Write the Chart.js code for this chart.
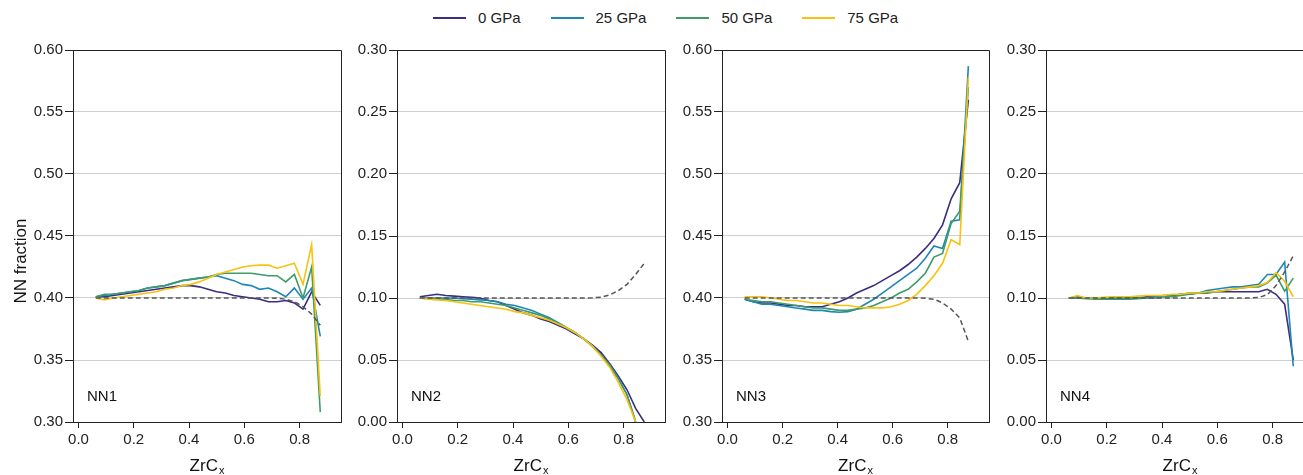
<!DOCTYPE html>
<html lang="en">
  <head>
    <meta charset="UTF-8" />
    <title>NN fraction vs ZrCx</title>
    <script src="https://cdn.jsdelivr.net/npm/chart.js"></script>
    <style>
      body {
        margin: 0;
        width: 1303px;
        height: 475px;
        overflow: hidden;
        background: #fff;
        font-family: "Liberation Sans", Arial, sans-serif;
      }
      canvas {
        position: absolute;
        top: 0;
      }
      #legend {
        position: absolute;
        left: 433px;
        top: 9px;
        display: flex;
        align-items: center;
        font-size: 15px;
        line-height: 17px;
        color: #222;
      }
      .item {
        display: flex;
        align-items: center;
        margin-right: 30px;
      }
      .swatch {
        width: 33px;
        height: 2px;
        margin-right: 12px;
      }
    </style>
  </head>
  <body>
    <div id="legend"></div>
    <canvas id="nn1" width="345" height="475" style="left: 0px"></canvas>
    <canvas id="nn2" width="325" height="475" style="left: 345px"></canvas>
    <canvas id="nn3" width="324" height="475" style="left: 670px"></canvas>
    <canvas id="nn4" width="330" height="475" style="left: 994px"></canvas>
    <script>
      // ZrCx composition of every point
      const zrcX = [
        0.0625, 0.09375, 0.125, 0.15625, 0.1875, 0.21875, 0.25, 0.28125, 0.3125,
        0.34375, 0.375, 0.40625, 0.4375, 0.46875, 0.5, 0.53125, 0.5625, 0.59375,
        0.625, 0.65625, 0.6875, 0.71875, 0.75, 0.78125, 0.8125, 0.84375, 0.875,
      ];
      const pressureLabels = ["0 GPa", "25 GPa", "50 GPa", "75 GPa"];
      const pressureColors = ["#3b2d7f", "#1f86b6", "#3d9c68", "#f8c20f"];
      const panelNames = ["NN1", "NN2", "NN3", "NN4"];
      const xTicks = [0.0, 0.2, 0.4, 0.6, 0.8];
      const yTicksHigh = [0.3, 0.35, 0.4, 0.45, 0.5, 0.55, 0.6];
      const yTicksLow = [0.0, 0.05, 0.1, 0.15, 0.2, 0.25, 0.3];

      // NN1
      const nn1_0 = [
        0.401, 0.401, 0.402, 0.403, 0.404, 0.405, 0.406, 0.407, 0.408, 0.409,
        0.410, 0.410, 0.409, 0.407, 0.405, 0.404, 0.402, 0.401, 0.400, 0.399,
        0.397, 0.397, 0.398, 0.396, 0.391, 0.405, 0.394,
      ];
      const nn1_25 = [
        0.401, 0.402, 0.403, 0.404, 0.405, 0.406, 0.408, 0.409, 0.410, 0.412,
        0.414, 0.415, 0.416, 0.417, 0.418, 0.416, 0.414, 0.411, 0.410, 0.407,
        0.408, 0.405, 0.401, 0.408, 0.399, 0.408, 0.369,
      ];
      const nn1_50 = [
        0.401, 0.403, 0.403, 0.404, 0.405, 0.406, 0.408, 0.409, 0.410, 0.412,
        0.414, 0.415, 0.416, 0.417, 0.419, 0.420, 0.420, 0.420, 0.420, 0.419,
        0.418, 0.418, 0.413, 0.419, 0.400, 0.425, 0.308,
      ];
      const nn1_75 = [
        0.400, 0.3985, 0.400, 0.401, 0.402, 0.403, 0.404, 0.405, 0.407, 0.408,
        0.410, 0.411, 0.413, 0.416, 0.419, 0.421, 0.423, 0.425, 0.426, 0.4265,
        0.4265, 0.424, 0.426, 0.428, 0.411, 0.443, 0.321,
      ];
      const nn1_random = [
        0.400, 0.400, 0.400, 0.400, 0.400, 0.400, 0.400, 0.400, 0.400, 0.400,
        0.400, 0.400, 0.400, 0.400, 0.400, 0.400, 0.400, 0.400, 0.400, 0.400,
        0.400, 0.3998, 0.399, 0.397, 0.393, 0.387, 0.378,
      ];

      // NN2
      const nn2_0 = [
        0.101, 0.102, 0.103, 0.102, 0.1015, 0.101, 0.1005, 0.100, 0.098, 0.097,
        0.094, 0.091, 0.088, 0.086, 0.083, 0.081, 0.078, 0.075, 0.071, 0.067,
        0.062, 0.056, 0.047, 0.037, 0.026, 0.011, 0.000,
      ];
      const nn2_25 = [
        0.100, 0.100, 0.100, 0.100, 0.100, 0.0995, 0.099, 0.0985, 0.098, 0.097,
        0.095, 0.094, 0.092, 0.090, 0.087, 0.084, 0.080, 0.076, 0.072, 0.067,
        0.061, 0.054, 0.045, 0.035, 0.022, 0.000, null,
      ];
      const nn2_50 = [
        0.100, 0.0995, 0.099, 0.099, 0.098, 0.098, 0.097, 0.097, 0.096, 0.095,
        0.094, 0.092, 0.090, 0.088, 0.086, 0.083, 0.080, 0.076, 0.072, 0.067,
        0.061, 0.054, 0.046, 0.035, 0.022, 0.000, null,
      ];
      const nn2_75 = [
        0.100, 0.099, 0.0985, 0.098, 0.097, 0.096, 0.095, 0.094, 0.093, 0.092,
        0.091, 0.089, 0.088, 0.086, 0.084, 0.082, 0.079, 0.076, 0.072, 0.067,
        0.061, 0.053, 0.044, 0.032, 0.018, 0.000, null,
      ];
      const nn2_random = [
        0.100, 0.100, 0.100, 0.100, 0.100, 0.100, 0.100, 0.100, 0.100, 0.100,
        0.100, 0.100, 0.100, 0.100, 0.100, 0.100, 0.100, 0.100, 0.100, 0.100,
        0.1002, 0.1006, 0.1025, 0.106, 0.111, 0.119, 0.128,
      ];

      // NN3
      const nn3_0 = [
        0.399, 0.397, 0.396, 0.396, 0.395, 0.394, 0.394, 0.393, 0.393, 0.393,
        0.395, 0.397, 0.400, 0.404, 0.407, 0.410, 0.414, 0.418, 0.422, 0.427,
        0.433, 0.440, 0.448, 0.459, 0.480, 0.493, 0.560,
      ];
      const nn3_25 = [
        0.399, 0.397, 0.395, 0.395, 0.394, 0.393, 0.392, 0.391, 0.390, 0.390,
        0.389, 0.3885, 0.389, 0.391, 0.395, 0.399, 0.404, 0.409, 0.414, 0.419,
        0.424, 0.432, 0.442, 0.440, 0.462, 0.463, 0.587,
      ];
      const nn3_50 = [
        0.399, 0.398, 0.397, 0.397, 0.396, 0.395, 0.394, 0.393, 0.392, 0.392,
        0.391, 0.390, 0.390, 0.391, 0.392, 0.394, 0.397, 0.400, 0.404, 0.407,
        0.413, 0.420, 0.433, 0.436, 0.460, 0.470, 0.570,
      ];
      const nn3_75 = [
        0.401, 0.401, 0.401, 0.400, 0.399, 0.398, 0.398, 0.397, 0.396, 0.396,
        0.395, 0.394, 0.394, 0.393, 0.392, 0.392, 0.392, 0.393, 0.395, 0.398,
        0.403, 0.410, 0.418, 0.428, 0.447, 0.443, 0.578,
      ];
      const nn3_random = [
        0.400, 0.400, 0.400, 0.400, 0.400, 0.400, 0.400, 0.400, 0.400, 0.400,
        0.400, 0.400, 0.400, 0.400, 0.400, 0.400, 0.400, 0.400, 0.400, 0.400,
        0.400, 0.3998, 0.399, 0.396, 0.391, 0.384, 0.365,
      ];

      // NN4
      const nn4_0 = [
        0.100, 0.100, 0.100, 0.100, 0.100, 0.100, 0.100, 0.100, 0.100, 0.101,
        0.101, 0.102, 0.102, 0.103, 0.103, 0.104, 0.104, 0.105, 0.105, 0.105,
        0.105, 0.105, 0.105, 0.107, 0.103, 0.095, 0.050,
      ];
      const nn4_25 = [
        0.100, 0.101, 0.100, 0.100, 0.100, 0.100, 0.100, 0.100, 0.100, 0.100,
        0.101, 0.101, 0.102, 0.103, 0.104, 0.104, 0.106, 0.107, 0.108, 0.109,
        0.109, 0.110, 0.111, 0.119, 0.119, 0.129, 0.045,
      ];
      const nn4_50 = [
        0.100, 0.100, 0.0995, 0.099, 0.099, 0.099, 0.099, 0.099, 0.0995, 0.100,
        0.100, 0.101, 0.101, 0.102, 0.103, 0.104, 0.104, 0.105, 0.106, 0.107,
        0.108, 0.109, 0.109, 0.112, 0.1185, 0.1055, 0.116,
      ];
      const nn4_75 = [
        0.100, 0.102, 0.100, 0.100, 0.1005, 0.101, 0.101, 0.101, 0.1015, 0.102,
        0.102, 0.102, 0.103, 0.103, 0.104, 0.104, 0.105, 0.105, 0.106, 0.107,
        0.108, 0.109, 0.110, 0.1125, 0.1205, 0.1135, 0.101,
      ];
      const nn4_random = [
        0.100, 0.100, 0.100, 0.100, 0.100, 0.100, 0.100, 0.100, 0.100, 0.100,
        0.100, 0.100, 0.100, 0.100, 0.100, 0.100, 0.100, 0.100, 0.100, 0.100,
        0.100, 0.1001, 0.1004, 0.1027, 0.110, 0.121, 0.134,
      ];

      const fontFamily = '"Liberation Sans", Arial, sans-serif';

      // HTML legend on top of the figure
      const legend = document.getElementById("legend");
      pressureLabels.forEach((name, i) => {
        const item = document.createElement("div");
        item.className = "item";
        const swatch = document.createElement("span");
        swatch.className = "swatch";
        swatch.style.background = pressureColors[i];
        item.appendChild(swatch);
        item.appendChild(document.createTextNode(name));
        legend.appendChild(item);
      });

      // Frame, panel name and axis titles
      const panelDecor = {
        id: "panelDecor",
        afterDraw(chart, args, opts) {
          const ctx = chart.ctx;
          const a = chart.chartArea;
          ctx.save();
          ctx.strokeStyle = "#222";
          ctx.lineWidth = 1;
          const top = Math.round(a.top - 0.5) + 0.5;
          const right = Math.round(a.right - 0.5) + 0.5;
          ctx.beginPath();
          ctx.moveTo(a.left, top);
          ctx.lineTo(right, top);
          ctx.lineTo(right, a.bottom);
          ctx.stroke();

          ctx.fillStyle = "#111";
          ctx.font = "15px " + fontFamily;
          ctx.textAlign = "left";
          ctx.textBaseline = "alphabetic";
          ctx.fillText(opts.label, a.left + 14, a.bottom - 21);

          // x title ZrC with subscript x
          ctx.font = "17px " + fontFamily;
          const w1 = ctx.measureText("ZrC").width;
          ctx.font = "11px " + fontFamily;
          const w2 = ctx.measureText("x").width;
          const start = (a.left + a.right) / 2 - (w1 + w2 + 1) / 2;
          ctx.font = "17px " + fontFamily;
          ctx.fillText("ZrC", start, 471);
          ctx.font = "11px " + fontFamily;
          ctx.fillText("x", start + w1 + 1, 474);

          if (opts.yTitle) {
            ctx.font = "17px " + fontFamily;
            ctx.translate(26, 261);
            ctx.rotate(-Math.PI / 2);
            ctx.textAlign = "center";
            ctx.fillText(opts.yTitle, 0, 0);
          }
          ctx.restore();
        },
      };

      function makePanel(id, index, series, randomLine, yTicks, yWidth, rightPad, yTitle) {
        const datasets = series.map((vals, i) => ({
          label: pressureLabels[i],
          data: zrcX.map((x, j) => ({ x: x, y: vals[j] })),
          borderColor: pressureColors[i],
          borderWidth: 1.6,
          pointRadius: 0,
          tension: 0,
          order: 3 - i,
        }));
        // random distribution reference
        datasets.push({
          label: "random",
          data: zrcX.map((x, j) => ({ x: x, y: randomLine[j] })),
          borderColor: "#555",
          borderWidth: 1.5,
          borderDash: [5, 3],
          pointRadius: 0,
          order: -1,
        });

        new Chart(document.getElementById(id), {
          type: "line",
          data: { datasets: datasets },
          plugins: [panelDecor],
          options: {
            responsive: false,
            animation: false,
            layout: { padding: { top: 50, right: rightPad, left: 0, bottom: 0 } },
            plugins: {
              legend: { display: false },
              tooltip: { enabled: false },
              panelDecor: { label: panelNames[index], yTitle: yTitle },
            },
            scales: {
              x: {
                type: "linear",
                min: -0.02,
                max: 0.95,
                afterBuildTicks: (axis) => {
                  axis.ticks = xTicks.map((v) => ({ value: v }));
                },
                afterFit: (axis) => {
                  axis.height = 53;
                },
                border: { color: "#222", width: 1 },
                grid: {
                  drawOnChartArea: false,
                  tickLength: 6,
                  tickColor: "#222",
                },
                ticks: {
                  padding: 3,
                  maxRotation: 0,
                  color: "#222",
                  font: { family: fontFamily, size: 15 },
                  callback: (v) => v.toFixed(1),
                },
              },
              y: {
                min: yTicks[0],
                max: yTicks[yTicks.length - 1],
                afterBuildTicks: (axis) => {
                  axis.ticks = yTicks.map((v) => ({ value: v }));
                },
                afterFit: (axis) => {
                  axis.width = yWidth;
                },
                border: { color: "#222", width: 1 },
                grid: {
                  color: "#cfcfcf",
                  tickColor: "#222",
                  tickLength: 8,
                },
                ticks: {
                  padding: 2,
                  color: "#222",
                  font: { family: fontFamily, size: 15 },
                  callback: (v) => v.toFixed(2),
                },
              },
            },
          },
        });
      }

      makePanel("nn1", 0, [nn1_0, nn1_25, nn1_50, nn1_75], nn1_random, yTicksHigh, 73, 4, "NN fraction");
      makePanel("nn2", 1, [nn2_0, nn2_25, nn2_50, nn2_75], nn2_random, yTicksLow, 52, 5, null);
      makePanel("nn3", 2, [nn3_0, nn3_25, nn3_50, nn3_75], nn3_random, yTicksHigh, 52, 5, null);
      makePanel("nn4", 3, [nn4_0, nn4_25, nn4_50, nn4_75], nn4_random, yTicksLow, 52, 10, null);
    </script>
  </body>
</html>
